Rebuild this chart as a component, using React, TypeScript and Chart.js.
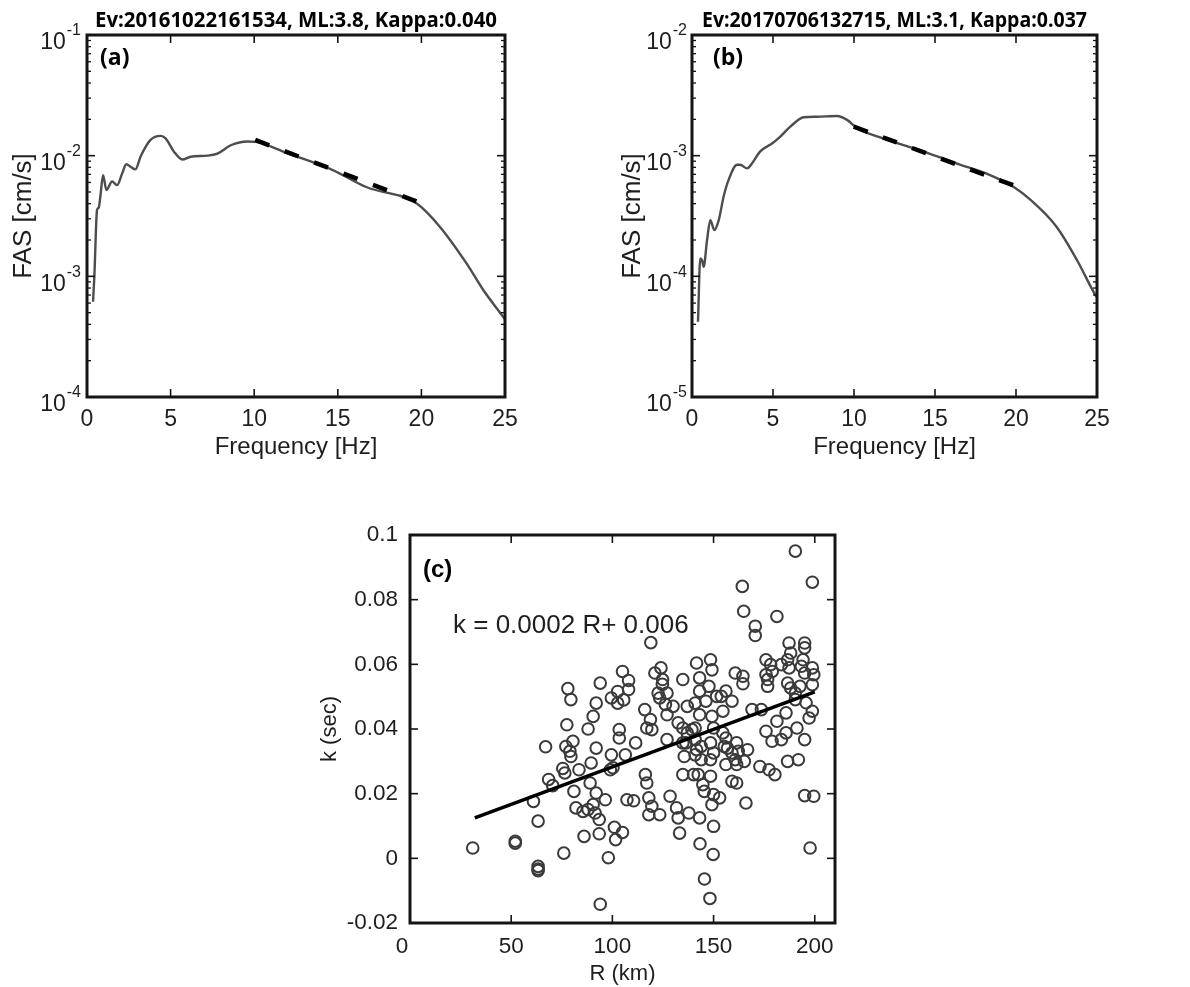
import React, { useEffect, useRef } from "react";
import { Chart, registerables } from "chart.js";
Chart.register(...registerables);

// ---------- Panel (a) ----------
const titleA = "Ev:20161022161534, ML:3.8, Kappa:0.040";
const freqA = [0.36, 0.44, 0.6, 0.7, 0.8, 0.96, 1.16, 1.5, 1.8, 2.1, 2.35, 2.6, 2.9, 3.2, 3.8, 4.4, 4.7, 5.2, 5.7, 6.2, 7.2, 7.8, 8.6, 9.6, 10.1, 11.95, 14.7, 16.7, 19.7, 21.1, 22.7, 23.7, 24.8, 25];
const fasA = [6.15e-4, 1.0e-3, 3.55e-3, 3.7e-3, 4.6e-3, 6.9e-3, 5.2e-3, 6.1e-3, 5.7e-3, 7.1e-3, 8.5e-3, 8.1e-3, 7.7e-3, 9.8e-3, 1.35e-2, 1.46e-2, 1.39e-2, 1.08e-2, 9.3e-3, 9.8e-3, 1.0e-2, 1.04e-2, 1.22e-2, 1.31e-2, 1.3e-2, 1.05e-2, 7.6e-3, 5.5e-3, 4.03e-3, 2.58e-3, 1.28e-3, 7.7e-4, 4.8e-4, 4.4e-4];
const fitFreqA = [10.06, 19.72];
const fitFasA = [1.35e-2, 4.17e-3];
const yTicksA = [1e-4, 1e-3, 1e-2, 1e-1];

// ---------- Panel (b) ----------
const titleB = "Ev:20170706132715, ML:3.1, Kappa:0.037";
const freqB = [0.37, 0.51, 0.62, 0.72, 0.93, 1.13, 1.38, 1.65, 1.95, 2.26, 2.78, 2.98, 3.4, 3.7, 4.2, 4.94, 5.45, 6.07, 6.9, 7.7, 8.95, 9.57, 10.2, 11.8, 14.3, 16.36, 18.4, 19.86, 20.9, 22.5, 23.77, 24.9, 25];
const fasB = [4.2e-5, 1.41e-4, 1.36e-4, 1.2e-4, 2.0e-4, 2.92e-4, 2.42e-4, 2.92e-4, 4.57e-4, 6.3e-4, 8.4e-4, 8.4e-4, 7.85e-4, 8.6e-4, 1.08e-3, 1.26e-3, 1.44e-3, 1.74e-3, 2.08e-3, 2.1e-3, 2.13e-3, 1.98e-3, 1.69e-3, 1.39e-3, 1.08e-3, 8.6e-4, 6.9e-4, 5.5e-4, 4.3e-4, 2.58e-4, 1.36e-4, 7.0e-5, 6.7e-5];
const fitFreqB = [9.98, 19.82];
const fitFasB = [1.74e-3, 5.7e-4];
const yTicksB = [1e-5, 1e-4, 1e-3, 1e-2];

const freqTicks = [0, 5, 10, 15, 20, 25];

// ---------- Panel (c) ----------
const rKm = [
  31, 52, 52, 61, 63.3, 63.3, 63.3, 63.3, 67, 68.5, 70.5,
  75.5, 76.5, 76, 77, 77.5, 78, 79.5, 79, 80.5, 79.5,
  81, 83.5, 82, 85.5, 88, 86, 88, 89.5, 89,
  90.5, 92, 94, 92, 92, 90.5, 91.5, 93.5, 93.5, 96.5, 94, 98, 99.5, 99, 99.5,
  100.3, 101, 101.6, 105, 102.6, 102.6, 105.6, 108, 108, 105, 103.4, 103.4, 106.4, 107.2,
  111.5, 110.5, 116, 117, 118.8, 119.5, 116.3, 117, 118, 119.5, 118, 123.4, 119,
  121, 124, 124.8, 122.6, 123.4, 127, 130, 127, 127, 124.7, 126.2, 128.5,
  134.8, 132.5, 134.8, 137, 139.3, 134.8, 136.3, 135.5, 134.8, 137, 131.7, 132.5, 137.8, 133.2,
  141.6, 148.5, 149.2, 143.1, 143.1, 140.9, 146.2, 147.7, 143.1, 149.2, 140.9, 140.9, 141.6, 143.9, 148.5, 150, 140.9, 143.9, 148.5, 150, 142.4, 148.5, 140.1, 144.7, 145.4, 150, 149.2, 150, 143.1, 143.3, 149.8, 145.5, 148.2,
  151.5, 153.8, 156.1, 159.1, 154.6, 160.7, 164.5, 164.5, 154.6, 156.1, 155.3, 156.9, 159.1, 161.4, 162.2, 166.8, 160.7, 161.4, 165.2, 156.1, 159.1, 161.4, 153, 166, 164.2, 164.9, 169,
  170.6, 170.6, 181.3, 190.4, 198.8, 173.6, 175.9, 178.2, 175.9, 176.7, 176.7, 179, 183.5, 187.3, 188.1, 186.6, 187.3, 186.6, 188.1, 190.4, 192.7, 195, 195, 194.2, 193.4, 195, 198.8, 199.5, 198.8, 190.4, 195.7, 197.2, 198.8, 185.8, 181.3, 175.9, 178.9, 183.5, 185.8, 191.2, 195, 172.9, 177.4, 180.3, 186.6, 191.9, 195, 199.5, 197.7,
];
const kSec = [
  0.0032, 0.0053, 0.0047, 0.0176, 0.0115, -0.0025, -0.0033, -0.0038, 0.0345, 0.0244, 0.0225,
  0.0278, 0.0264, 0.0016, 0.0346, 0.0413, 0.0525, 0.0491, 0.0331, 0.0362, 0.0315,
  0.0207, 0.0274, 0.0156, 0.0145, 0.0151, 0.0068, 0.04, 0.0295, 0.0233,
  0.0439, 0.048, 0.0542, 0.0341, 0.0202, 0.0166, 0.014, 0.012, 0.0076, 0.0181, -0.0142, 0.0002, 0.032, 0.0274, 0.0496,
  0.028, 0.0096, 0.0058, 0.008, 0.0516, 0.048, 0.049, 0.055, 0.0522, 0.0578, 0.0398, 0.0372, 0.032, 0.0181,
  0.0357, 0.0178, 0.046, 0.0403, 0.0429, 0.0398, 0.0259, 0.0233, 0.0187, 0.0161, 0.0135, 0.0135, 0.0667,
  0.0573, 0.0589, 0.0553, 0.0511, 0.0496, 0.0511, 0.047, 0.0444, 0.0367, 0.0538, 0.0476, 0.0192,
  0.0553, 0.0419, 0.0403, 0.0388, 0.0398, 0.0357, 0.0357, 0.0315, 0.0259, 0.047, 0.0156, 0.0125, 0.014, 0.0078,
  0.0604, 0.0614, 0.0583, 0.0558, 0.0517, 0.048, 0.0486, 0.0532, 0.0444, 0.0439, 0.0403, 0.0367, 0.0336, 0.0346, 0.0357, 0.0403, 0.032, 0.0305, 0.0305, 0.0326, 0.0259, 0.0254, 0.0259, 0.0228, 0.0207, 0.0197, 0.0166, 0.0099, 0.0125, 0.0045, 0.0012, -0.0064, -0.0124,
  0.0501, 0.0501, 0.0517, 0.0486, 0.0455, 0.0573, 0.0563, 0.054, 0.0388, 0.0372, 0.0346, 0.0341, 0.0326, 0.0357, 0.0331, 0.0336, 0.0305, 0.029, 0.03, 0.029, 0.0238, 0.0233, 0.0187, 0.0171, 0.0841, 0.0764, 0.046,
  0.0718, 0.0689, 0.0748, 0.095, 0.0854, 0.046, 0.0614, 0.0599, 0.0568, 0.0553, 0.0532, 0.0578, 0.0599, 0.0666, 0.0635, 0.0614, 0.0589, 0.0542, 0.0527, 0.0511, 0.0532, 0.0666, 0.0651, 0.0614, 0.0594, 0.0573, 0.0589, 0.0568, 0.0537, 0.0491, 0.0481, 0.0434, 0.0455, 0.045, 0.0424, 0.0393, 0.0362, 0.0367, 0.0388, 0.0403, 0.0367, 0.0284, 0.0274, 0.0259, 0.03, 0.0305, 0.0194, 0.0192, 0.0032,
];
const fitR = [32, 200];
const fitK = [0.0125, 0.0515];
const rTicks = [0, 50, 100, 150, 200];
const kTicks = [-0.02, 0, 0.02, 0.04, 0.06, 0.08, 0.1];
const kTickLabels = ["-0.02", "0", "0.02", "0.04", "0.06", "0.08", "0.1"];
const equationText = "k = 0.0002 R+ 0.006";

const SANS = '"Liberation Sans", Arial, Helvetica, sans-serif';
const TEXT_COLOR = "#1e1e1e";

type FrameCfg = {
  xTicks: number[];
  yTicks: number[];
  yMinor: number[];
  logY: boolean;
  yTickLabels?: string[];
  tickFont: string;
  supFont?: string;
  xLabelBase: number;
  xTitle: string;
  xTitleFont: string;
  xTitleBase: number;
  yTitle: string;
  yTitleFont: string;
  yTitleX: number;
  title?: string;
  titleWidth?: number;
  panel: string;
  panelFont: string;
  panelX: number;
  panelY: number;
  note?: string;
  noteFont?: string;
  noteX?: number;
  noteY?: number;
  yLabelGap: number;
  zeroLabelShift?: number;
};

function framePlugin(cfg: FrameCfg) {
  return {
    id: "frame",
    afterDraw(chart: any) {
      const ctx: CanvasRenderingContext2D = chart.ctx;
      const a = chart.chartArea;
      const xs = chart.scales.x;
      const ys = chart.scales.y;
      ctx.save();
      ctx.strokeStyle = "#141414";
      const seg = (x1: number, y1: number, x2: number, y2: number) => {
        ctx.beginPath();
        ctx.moveTo(x1, y1);
        ctx.lineTo(x2, y2);
        ctx.stroke();
      };
      ctx.lineWidth = 1.6;
      for (const v of cfg.xTicks) {
        const px = xs.getPixelForValue(v);
        if (px > a.left + 3 && px < a.right - 3) {
          seg(px, a.bottom, px, a.bottom - 8);
          seg(px, a.top, px, a.top + 8);
        }
      }
      for (const v of cfg.yTicks) {
        const py = ys.getPixelForValue(v);
        if (py > a.top + 3 && py < a.bottom - 3) {
          seg(a.left, py, a.left + 8, py);
          seg(a.right, py, a.right - 8, py);
        }
      }
      ctx.lineWidth = 1.3;
      for (const v of cfg.yMinor) {
        const py = ys.getPixelForValue(v);
        seg(a.left, py, a.left + 4, py);
        seg(a.right, py, a.right - 4, py);
      }
      ctx.lineWidth = 3;
      ctx.strokeRect(a.left, a.top, a.right - a.left, a.bottom - a.top);

      ctx.fillStyle = TEXT_COLOR;
      ctx.font = cfg.tickFont;
      ctx.textAlign = "center";
      ctx.textBaseline = "alphabetic";
      cfg.xTicks.forEach((v) => {
        let px = xs.getPixelForValue(v);
        if (v === 0 && cfg.zeroLabelShift) px += cfg.zeroLabelShift;
        ctx.fillText(String(v), px, a.bottom + cfg.xLabelBase);
      });
      cfg.yTicks.forEach((v, i) => {
        const py = ys.getPixelForValue(v);
        const rx = a.left - cfg.yLabelGap;
        ctx.textAlign = "right";
        ctx.textBaseline = "middle";
        if (cfg.logY) {
          const e = String(Math.round(Math.log10(v)));
          ctx.font = cfg.supFont || cfg.tickFont;
          const ew = ctx.measureText(e).width;
          ctx.fillText(e, rx, py - 4);
          ctx.font = cfg.tickFont;
          ctx.fillText("10", rx - ew - 1, py + 8);
        } else {
          ctx.font = cfg.tickFont;
          ctx.fillText(cfg.yTickLabels ? cfg.yTickLabels[i] : String(v), rx, py);
        }
      });
      ctx.textAlign = "center";
      ctx.textBaseline = "alphabetic";
      ctx.font = cfg.xTitleFont;
      ctx.fillText(cfg.xTitle, (a.left + a.right) / 2, a.bottom + cfg.xTitleBase);
      ctx.save();
      ctx.font = cfg.yTitleFont;
      ctx.translate(cfg.yTitleX, (a.top + a.bottom) / 2);
      ctx.rotate(-Math.PI / 2);
      ctx.fillText(cfg.yTitle, 0, 0);
      ctx.restore();
      if (cfg.title) {
        ctx.save();
        ctx.fillStyle = "#000";
        ctx.font = 'bold 22px "Open Sans", "Noto Sans", sans-serif';
        const w = ctx.measureText(cfg.title).width;
        ctx.translate((a.left + a.right) / 2, 27);
        ctx.scale((cfg.titleWidth || w) / w, 1);
        ctx.textAlign = "center";
        ctx.fillText(cfg.title, 0, 0);
        ctx.restore();
      }
      ctx.fillStyle = "#000";
      ctx.font = cfg.panelFont;
      ctx.textAlign = "left";
      ctx.fillText(cfg.panel, cfg.panelX, cfg.panelY);
      if (cfg.note) {
        ctx.fillStyle = TEXT_COLOR;
        ctx.font = cfg.noteFont || `23px ${SANS}`;
        ctx.fillText(cfg.note, cfg.noteX || 0, cfg.noteY || 0);
      }
      ctx.restore();
    },
  };
}

function minorLog(lo: number, hi: number) {
  const out: number[] = [];
  for (let e = lo; e < hi; e++) {
    for (let m = 2; m <= 9; m++) out.push(m * Math.pow(10, e));
  }
  return out;
}

const baseOptions = (padding: any) => ({
  animation: false,
  responsive: false,
  maintainAspectRatio: false,
  events: [],
  layout: { padding, autoPadding: false },
  plugins: {
    legend: { display: false },
    tooltip: { enabled: false },
    title: { display: false },
  },
});

function spectrumConfig(
  freq: number[],
  fas: number[],
  fitF: number[],
  fitA: number[],
  yTicks: number[],
  padding: any,
  dash: number[],
  frame: FrameCfg
) {
  const lo = Math.round(Math.log10(yTicks[0]));
  const hi = Math.round(Math.log10(yTicks[yTicks.length - 1]));
  return {
    type: "line",
    data: {
      datasets: [
        {
          data: fitF.map((f, i) => ({ x: f, y: fitA[i] })),
          borderColor: "#000",
          borderWidth: 4.5,
          borderDash: dash,
          pointRadius: 0,
          fill: false,
        },
        {
          data: freq.map((f, i) => ({ x: f, y: fas[i] })),
          borderColor: "#4d4d4d",
          borderWidth: 2.4,
          pointRadius: 0,
          cubicInterpolationMode: "monotone",
          fill: false,
        },
      ],
    },
    options: {
      ...baseOptions(padding),
      scales: {
        x: { type: "linear", min: 0, max: 25, display: false },
        y: { type: "logarithmic", min: yTicks[0], max: yTicks[yTicks.length - 1], display: false },
      },
    },
    plugins: [framePlugin({ ...frame, yMinor: minorLog(lo, hi) })],
  } as any;
}

function scatterConfig() {
  return {
    type: "scatter",
    data: {
      datasets: [
        {
          type: "line",
          data: fitR.map((r, i) => ({ x: r, y: fitK[i] })),
          borderColor: "#000",
          borderWidth: 3.6,
          pointRadius: 0,
          fill: false,
        },
        {
          data: rKm.map((r, i) => ({ x: r, y: kSec[i] })),
          pointRadius: 5.8,
          pointBorderWidth: 2,
          pointBorderColor: "#3a3a3a",
          pointBackgroundColor: "rgba(0,0,0,0)",
        },
      ],
    },
    options: {
      ...baseOptions({ left: 130, right: 55, top: 55, bottom: 64 }),
      scales: {
        x: { type: "linear", min: 0, max: 210, display: false },
        y: { type: "linear", min: -0.02, max: 0.1, display: false },
      },
    },
    plugins: [
      framePlugin({
        xTicks: rTicks,
        yTicks: kTicks,
        yMinor: [],
        logY: false,
        yTickLabels: kTickLabels,
        tickFont: `22.5px ${SANS}`,
        xLabelBase: 30,
        xTitle: "R (km)",
        xTitleFont: `22px ${SANS}`,
        xTitleBase: 57,
        yTitle: "k (sec)",
        yTitleFont: `22px ${SANS}`,
        yTitleX: 56,
        panel: "(c)",
        panelFont: `bold 24px ${SANS}`,
        panelX: 143,
        panelY: 97,
        note: equationText,
        noteFont: `26px ${SANS}`,
        noteX: 173,
        noteY: 153,
        yLabelGap: 12,
        zeroLabelShift: -8,
      }),
    ],
  } as any;
}

function Panel(props: { left: number; top: number; width: number; height: number; make: () => any }) {
  const ref = useRef<HTMLCanvasElement>(null);
  useEffect(() => {
    const chart = new Chart(ref.current as HTMLCanvasElement, props.make());
    return () => chart.destroy();
  }, []);
  return (
    <canvas
      ref={ref}
      width={props.width}
      height={props.height}
      style={{ position: "absolute", left: props.left, top: props.top, width: props.width, height: props.height }}
    />
  );
}

const spectrumFrame = {
  xTicks: freqTicks,
  yMinor: [] as number[],
  logY: true,
  tickFont: `23px ${SANS}`,
  supFont: `16px ${SANS}`,
  xLabelBase: 29,
  xTitle: "Frequency [Hz]",
  xTitleFont: `24px ${SANS}`,
  xTitleBase: 57,
  yTitle: "FAS [cm/s]",
  yTitleFont: `26px ${SANS}`,
  panel: "",
  panelFont: 'bold 23px "Open Sans", "Noto Sans", sans-serif',
  panelY: 65,
};

export default function App() {
  return (
    <div style={{ position: "absolute", left: 0, top: 0, width: 1190, height: 987, background: "#fff" }}>
      <Panel
        left={0}
        top={0}
        width={590}
        height={470}
        make={() =>
          spectrumConfig(freqA, fasA, fitFreqA, fitFasA, yTicksA, { left: 87, right: 85, top: 35, bottom: 73 }, [15, 16.5], {
            ...spectrumFrame,
            yTicks: yTicksA,
            yTitleX: 31,
            title: titleA,
            titleWidth: 402,
            panel: "(a)",
            panelX: 100,
            yLabelGap: 6,
          } as FrameCfg)
        }
      />
      <Panel
        left={590}
        top={0}
        width={600}
        height={470}
        make={() =>
          spectrumConfig(freqB, fasB, fitFreqB, fitFasB, yTicksB, { left: 102, right: 93, top: 35, bottom: 73 }, [15, 16], {
            ...spectrumFrame,
            yTicks: yTicksB,
            yTitleX: 50,
            title: titleB,
            titleWidth: 385,
            panel: "(b)",
            panelX: 123,
            yLabelGap: 5,
          } as FrameCfg)
        }
      />
      <Panel left={280} top={480} width={610} height={507} make={scatterConfig} />
    </div>
  );
}
